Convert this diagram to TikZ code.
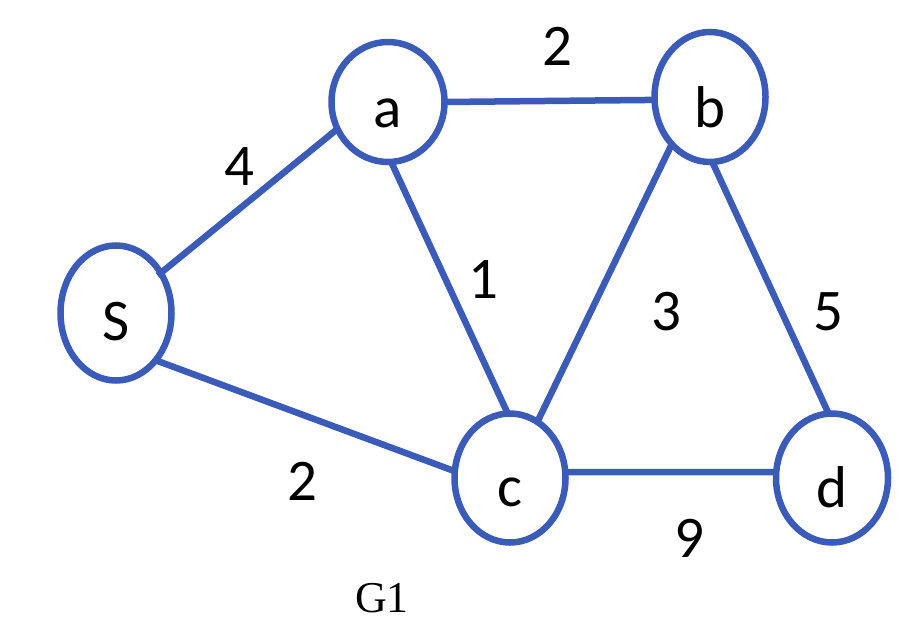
\documentclass[tikz,border=0pt]{standalone}
\usepackage{fontspec}
\setmainfont{Carlito}
\newfontfamily\gserif{Liberation Serif}
\usetikzlibrary{shapes.geometric,calc}
\definecolor{edgeblue}{HTML}{3A5BB7}
\tikzset{
  ell/.style={ellipse, draw=edgeblue, line width=6.5pt, inner sep=0pt, outer sep=0pt},
  edge/.style={draw=edgeblue, line width=6.5pt},
  txt/.style={font=\fontsize{59}{70}\selectfont, anchor=base, inner sep=0pt},
  captxt/.style={font=\gserif\fontsize{44}{52}\selectfont, anchor=base, inner sep=0pt}
}
\begin{document}
\begin{tikzpicture}[x=1pt,y=-1pt]
\useasboundingbox (0,0) rectangle (920,632);
% nodes
\node[ell, minimum width=111pt, minimum height=135pt] (S) at (116,313) {};
\node[ell, minimum width=113pt, minimum height=120pt] (a) at (388,102) {};
\node[ell, minimum width=111pt, minimum height=130pt] (b) at (710,97) {};
\node[ell, minimum width=111pt, minimum height=129pt] (c) at (510,478) {};
\node[ell, minimum width=112pt, minimum height=129pt] (d) at (832,478) {};
% node letters
\node[txt] (St) at ([yshift=-27pt]S.center) {S};
\node[txt] (at) at ([yshift=-25pt]a.center) {a};
\node[txt] (bt) at ([yshift=-30pt]b.center) {b};
\node[txt] (ct) at ([yshift=-28pt]c.center) {c};
\node[txt] (dt) at ([yshift=-29pt]d.center) {d};
% edges
\draw[edge] ($(S.42)!4pt!(S.center)$) -- (a.208);
\draw[edge] (a.0) -- (b.183);
\draw[edge] (a.273) -- (c.92);
\draw[edge] (b.231) -- (c.64);
\draw[edge] (b.272) -- (d.93);
\draw[edge] (c.6) -- (d.174);
\draw[edge] (S.310) -- (c.173);
% edge weights
\node[txt] (wab) at (557,65) {2};
\node[txt] (wSa) at (239,185) {4};
\node[txt] (wac) at (483,298) {1};
\node[txt] (wbc) at (666,330) {3};
\node[txt] (wbd) at (828,330) {5};
\node[txt] (wSc) at (302,500) {2};
\node[txt] (wcd) at (689,557) {9};
% caption
\node[captxt] (g1) at (382,612) {G1};
\end{tikzpicture}
\end{document}
